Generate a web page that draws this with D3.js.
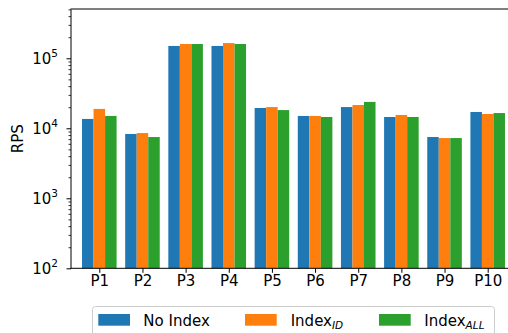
<!DOCTYPE html>
<html>
<head>
<meta charset="utf-8">
<script src="https://cdn.jsdelivr.net/npm/d3@7"></script>
<style>
  html, body { margin: 0; padding: 0; background: #fff; }
  svg { display: block; font-family: "DejaVu Sans", sans-serif; }
</style>
</head>
<body>
<svg id="chart" width="508" height="333"></svg>
<script>
// Requests per second for each query pattern, by indexing strategy
const categories = ["P1", "P2", "P3", "P4", "P5", "P6", "P7", "P8", "P9", "P10"];
const noIndex  = [13600, 8300, 150000, 150000, 19500, 15000, 20100, 14500, 7500, 17100];
const indexId  = [18900, 8550, 160000, 165000, 20100, 15000, 21500, 15500, 7250, 16000];
const indexAll = [15000, 7500, 160000, 160000, 18200, 14500, 23800, 14500, 7250, 16500];
const seriesNames = ["No Index", "Index", "Index"];
const seriesSubs = ["", "ID", "ALL"];
const colors = ["#1f77b4", "#ff7f0e", "#2ca02c"];
const yTickExponents = [2, 3, 4, 5];

const series = [noIndex, indexId, indexAll];

const svg = d3.select("#chart");
const plotL = 71, plotR = 516, plotT = 9, plotB = 268.3;
const fontSize = 15;

const x = d3.scaleLinear().domain([-0.656, categories.length - 1 + 0.656]).range([plotL, plotR]);
const y = d3.scaleLog().domain([100, Math.pow(10, 5.704)]).range([plotB, plotT]);

const barW = 0.267;

// bars
series.forEach((vals, k) => {
  svg.append("g")
    .selectAll("rect")
    .data(vals)
    .join("rect")
    .attr("x", (d, i) => x(i + (k - 1) * barW - barW / 2))
    .attr("width", (d, i) => x(i + (k - 1) * barW + barW / 2) - x(i + (k - 1) * barW - barW / 2))
    .attr("y", d => y(d))
    .attr("height", d => plotB - y(d))
    .attr("fill", colors[k]);
});

// y axis with major (decade) and minor ticks
const minorVals = [];
for (let e = 2; e <= 5; e++) {
  for (let m = 2; m <= 9; m++) {
    const v = m * Math.pow(10, e);
    if (v <= y.domain()[1]) minorVals.push(v);
  }
}
const yAxisMinor = d3.axisLeft(y).tickValues(minorVals).tickSize(2.5).tickFormat("");
const gMinor = svg.append("g").attr("transform", `translate(${plotL},0)`).call(yAxisMinor);
gMinor.select(".domain").remove();
gMinor.selectAll("line").attr("stroke", "#000").attr("stroke-width", 0.8);

const yAxisMajor = d3.axisLeft(y).tickValues(yTickExponents.map(e => Math.pow(10, e))).tickSize(4.5).tickFormat("");
const gMajor = svg.append("g").attr("transform", `translate(${plotL},0)`).call(yAxisMajor);
gMajor.select(".domain").remove();
gMajor.selectAll("line").attr("stroke", "#000").attr("stroke-width", 1);

// y tick labels as 10^n
yTickExponents.forEach(e => {
  const t = svg.append("text")
    .attr("x", 58)
    .attr("y", y(Math.pow(10, e)) + 6)
    .attr("text-anchor", "end")
    .attr("font-size", fontSize)
    .attr("fill", "#000");
  t.append("tspan").text("10");
  t.append("tspan").attr("dy", -7).attr("font-size", 10.5).text(String(e));
});

// x axis
const xAxis = d3.axisBottom(x).tickValues(d3.range(categories.length)).tickSize(4.5)
  .tickFormat(i => categories[i]).tickPadding(3);
const gx = svg.append("g").attr("transform", `translate(0,${plotB})`).call(xAxis);
gx.select(".domain").remove();
gx.selectAll("line").attr("stroke", "#000");
gx.selectAll("text").attr("font-size", fontSize).attr("fill", "#000")
  .attr("font-family", "DejaVu Sans, sans-serif");

// spines
svg.append("line").attr("x1", plotL).attr("x2", plotL).attr("y1", plotT).attr("y2", plotB + 0.5)
  .attr("stroke", "#000").attr("stroke-width", 1);
svg.append("line").attr("x1", plotL - 0.5).attr("x2", plotR).attr("y1", plotB).attr("y2", plotB)
  .attr("stroke", "#000").attr("stroke-width", 1);
svg.append("line").attr("x1", plotL - 0.5).attr("x2", plotR).attr("y1", plotT).attr("y2", plotT)
  .attr("stroke", "#555").attr("stroke-width", 1.3);

// y label
svg.append("text")
  .attr("transform", `translate(23,${(plotT + plotB) / 2}) rotate(-90)`)
  .attr("text-anchor", "middle")
  .attr("font-size", fontSize)
  .attr("fill", "#000")
  .text("RPS");

// legend
const lg = svg.append("g");
lg.append("rect")
  .attr("x", 92.5).attr("y", 306.5).attr("width", 402).attr("height", 40)
  .attr("rx", 3).attr("fill", "#fff").attr("stroke", "#ccc").attr("stroke-width", 1);
const patchX = [98.3, 245, 379];
const textX = [143.3, 290.7, 424.3];
seriesNames.forEach((name, k) => {
  lg.append("rect").attr("x", patchX[k]).attr("y", 314).attr("width", 31.7).attr("height", 11.7)
    .attr("fill", colors[k]);
  const t = lg.append("text").attr("x", textX[k]).attr("y", 326)
    .attr("font-size", fontSize).attr("fill", "#000");
  t.append("tspan").text(name);
  if (seriesSubs[k]) {
    t.append("tspan").attr("dy", 3).attr("font-size", 10.5).attr("font-style", "italic").text(seriesSubs[k]);
  }
});
</script>
</body>
</html>
